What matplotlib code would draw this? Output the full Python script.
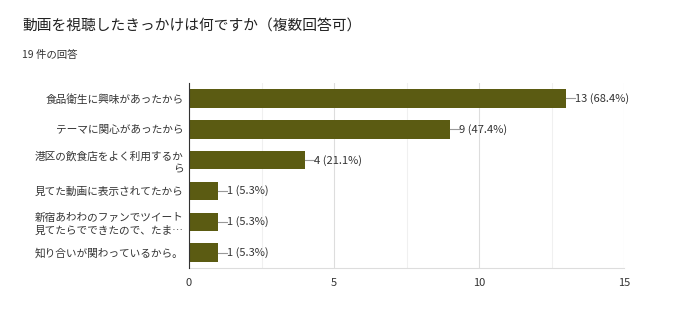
import matplotlib.pyplot as plt
import numpy as np

plt.rcParams['font.family'] = ['Noto Sans CJK JP', 'DejaVu Sans']

title = '動画を視聴したきっかけは何ですか（複数回答可）'
subtitle = '19 件の回答'
labels = ['食品衛生に興味があったから',
          'テーマに関心があったから',
          '港区の飲食店をよく利用するか\nら',
          '見てた動画に表示されてたから',
          '新宿あわわのファンでツイート\n見てたらでできたので、たま…',
          '知り合いが関わっているから。']
counts = [13, 9, 4, 1, 1, 1]
pct_labels = ['13 (68.4%)', '9 (47.4%)', '4 (21.1%)', '1 (5.3%)', '1 (5.3%)', '1 (5.3%)']

fig = plt.figure(figsize=(7, 3.13), dpi=100)
fig.text(22/700, 1-27/313, title, fontsize=10.6, color='#212121', va='center')
fig.text(22/700, 1-55/313, subtitle, fontsize=7.5, color='#333333', va='center')

ax = fig.add_axes([189/700, 1-268/313, 435/700, 185/313])
y = np.arange(len(labels))
ax.barh(y, counts, height=0.6, color='#5b5b12', zorder=3)
for yi, c, t in zip(y, counts, pct_labels):
    ax.plot([c, c + 0.3], [yi, yi], color='#999999', lw=0.8, zorder=3)
    ax.text(c + 0.32, yi, t, va='center', ha='left', fontsize=8, color='#333333')

ax.set_xlim(0, 15)
ax.set_ylim(len(labels) - 0.5, -0.5)
ax.set_yticks(y)
ax.set_yticklabels(labels, fontsize=7.7, color='#333333', linespacing=1.35)
ax.set_xticks([0, 5, 10, 15])
ax.set_xticklabels(['0', '5', '10', '15'], fontsize=8, color='#333333')
ax.set_xticks([2.5, 7.5, 12.5], minor=True)
ax.tick_params(axis='y', length=0, pad=4)
ax.tick_params(axis='x', length=0, pad=7)
ax.tick_params(axis='x', which='minor', length=0)
ax.grid(axis='x', which='major', color='#dddddd', lw=0.8, zorder=0)
ax.grid(axis='x', which='minor', color='#f0f0f0', lw=0.8, zorder=0)
for s in ['top', 'right']:
    ax.spines[s].set_visible(False)
ax.spines['bottom'].set_color('#dddddd')
ax.spines['left'].set_color('#333333')
ax.spines['left'].set_zorder(4)

plt.savefig('out.png')
